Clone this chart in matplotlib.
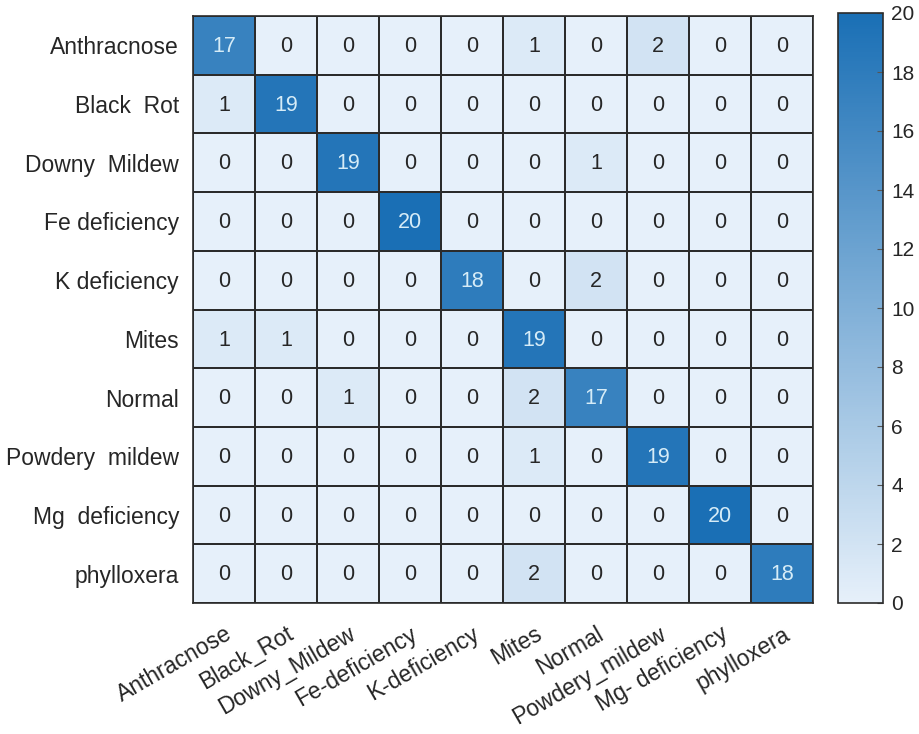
import numpy as np
import matplotlib
matplotlib.use('Agg')
import matplotlib.pyplot as plt
from matplotlib.colors import LinearSegmentedColormap

plt.rcParams['font.family'] = ['Liberation Sans', 'DejaVu Sans']

row_labels = ['Anthracnose', 'Black  Rot', 'Downy  Mildew', 'Fe deficiency',
              'K deficiency', 'Mites', 'Normal', 'Powdery  mildew',
              'Mg  deficiency', 'phylloxera']
col_labels = ['Anthracnose', 'Black_Rot', 'Downy_Mildew', 'Fe-deficiency',
              'K-deficiency', 'Mites', 'Normal', 'Powdery_mildew',
              'Mg- deficiency', 'phylloxera']

counts = np.array([
    [17, 0, 0, 0, 0, 1, 0, 2, 0, 0],
    [1, 19, 0, 0, 0, 0, 0, 0, 0, 0],
    [0, 0, 19, 0, 0, 0, 1, 0, 0, 0],
    [0, 0, 0, 20, 0, 0, 0, 0, 0, 0],
    [0, 0, 0, 0, 18, 0, 2, 0, 0, 0],
    [1, 1, 0, 0, 0, 19, 0, 0, 0, 0],
    [0, 0, 1, 0, 0, 2, 17, 0, 0, 0],
    [0, 0, 0, 0, 0, 1, 0, 19, 0, 0],
    [0, 0, 0, 0, 0, 0, 0, 0, 20, 0],
    [0, 0, 0, 0, 0, 2, 0, 0, 0, 18],
])

cmap = LinearSegmentedColormap.from_list('blues', ['#e6f0fa', '#1a6fb5'])

fig = plt.figure(figsize=(9.2, 7.34), dpi=100)
ax = fig.add_axes([193 / 920, 1 - 603 / 734, 620 / 920, 587 / 734])
cax = fig.add_axes([838 / 920, 1 - 603 / 734, 45 / 920, 590 / 734])

n = counts.shape[0]
im = ax.pcolormesh(np.arange(n + 1), np.arange(n + 1), counts, cmap=cmap,
                   vmin=0, vmax=20, edgecolor='#2b2b2b', linewidth=1.2)
ax.set_xlim(0, n)
ax.set_ylim(n, 0)

for i in range(n):
    for j in range(n):
        v = counts[i, j]
        color = '#d6ecf7' if v > 10 else '#262626'
        ax.text(j + 0.5, i + 0.52, str(v), ha='center', va='center',
                fontsize=15.5, color=color)

ax.set_xticks(np.arange(n) + 0.5)
ax.set_yticks(np.arange(n) + 0.5)
ax.set_yticklabels(row_labels, fontsize=16.5, color='#262626')
ax.set_xticklabels(col_labels, fontsize=16.5, color='#262626',
                   rotation=30, ha='right', rotation_mode='anchor')
ax.tick_params(length=0, pad=10)
ax.tick_params(axis='x', pad=14)
for s in ax.spines.values():
    s.set_color('#2b2b2b')
    s.set_linewidth(1.2)

cb = fig.colorbar(im, cax=cax, ticks=np.arange(0, 21, 2))
cb.outline.set_edgecolor('#2b2b2b')
cb.outline.set_linewidth(1.2)
cax.tick_params(direction='in', length=4, width=0.8, labelsize=15,
                labelcolor='#262626', color='#555555', pad=6)

fig.savefig('out.png', dpi=100)
